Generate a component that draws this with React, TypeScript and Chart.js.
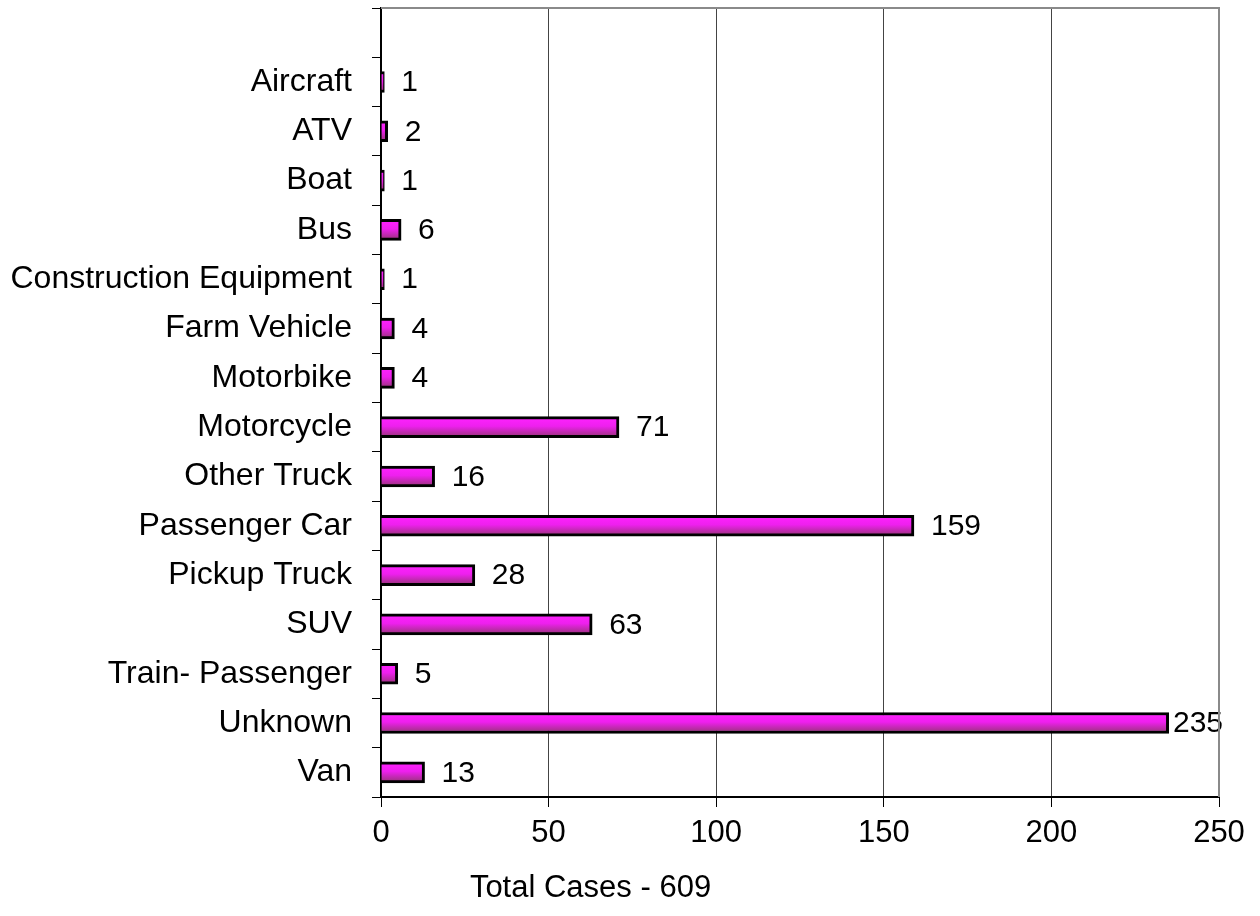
import React, { useEffect, useRef } from "react";
import { Chart, registerables } from "chart.js";

Chart.register(...registerables);

const categories = [
  "",
  "Aircraft",
  "ATV",
  "Boat",
  "Bus",
  "Construction Equipment",
  "Farm Vehicle",
  "Motorbike",
  "Motorcycle",
  "Other Truck",
  "Passenger Car",
  "Pickup Truck",
  "SUV",
  "Train- Passenger",
  "Unknown",
  "Van",
];
const cases: (number | null)[] = [null, 1, 2, 1, 6, 1, 4, 4, 71, 16, 159, 28, 63, 5, 235, 13];
const xTicks = [0, 50, 100, 150, 200, 250];
const axisTitle = "Total Cases - 609";

const FONT = "'Liberation Sans', Arial, sans-serif";

const labelsPlugin = {
  id: "barLabels",
  afterDatasetsDraw(chart: any) {
    const ctx = chart.ctx;
    const meta = chart.getDatasetMeta(0);
    const area = chart.chartArea;
    ctx.save();
    ctx.font = `30px ${FONT}`;
    ctx.fillStyle = "#000";
    ctx.textBaseline = "middle";
    ctx.textAlign = "left";
    meta.data.forEach((bar: any, i: number) => {
      const v = cases[i];
      if (v === null || v === undefined) return;
      const t = String(v);
      const w = ctx.measureText(t).width;
      let x = bar.x + 17;
      if (x + w > area.right + 4) x = Math.max(bar.x + 2, area.right + 4 - w);
      ctx.fillText(t, x, bar.y + 1);
    });
    ctx.restore();
  },
};

const framePlugin = {
  id: "frame",
  afterDraw(chart: any) {
    const ctx = chart.ctx;
    const a = chart.chartArea;
    ctx.save();
    ctx.strokeStyle = "#8a8a8a";
    ctx.lineWidth = 2;
    ctx.beginPath();
    ctx.moveTo(a.left, a.top);
    ctx.lineTo(a.right, a.top);
    ctx.lineTo(a.right, a.bottom);
    ctx.stroke();
    ctx.font = `31px ${FONT}`;
    ctx.fillStyle = "#000";
    ctx.textAlign = "center";
    ctx.textBaseline = "middle";
    ctx.fillText(axisTitle, a.left + (a.right - a.left) * 0.25, 888);
    ctx.restore();
  },
};

export default function App() {
  const ref = useRef<HTMLCanvasElement | null>(null);
  useEffect(() => {
    if (!ref.current) return;
    const chart = new Chart(ref.current, {
      type: "bar",
      data: {
        labels: categories,
        datasets: [
          {
            data: cases,
            barThickness: 21,
            borderWidth: 3,
            borderColor: "#000",
            backgroundColor: (c: any) => {
              const chart = c.chart;
              const ys = chart.scales && chart.scales.y;
              if (!ys || c.dataIndex === undefined) return "#e020e0";
              const cy = ys.getPixelForValue(c.dataIndex);
              if (!Number.isFinite(cy)) return "#e020e0";
              const g = chart.ctx.createLinearGradient(0, cy - 10, 0, cy + 10);
              g.addColorStop(0, "#ff22ff");
              g.addColorStop(0.45, "#ee20ee");
              g.addColorStop(1, "#973378");
              return g;
            },
          },
        ],
      },
      options: {
        indexAxis: "y",
        animation: false,
        responsive: true,
        maintainAspectRatio: false,
        layout: { padding: { top: 8, right: 41, left: 0, bottom: 0 } },
        plugins: {
          legend: { display: false },
          tooltip: { enabled: false },
          title: { display: false },
        },
        scales: {
          x: {
            type: "linear",
            min: 0,
            max: 250,
            afterBuildTicks: (s: any) => {
              s.ticks = xTicks.map((v) => ({ value: v }));
            },
            afterFit: (s: any) => {
              s.height = 119;
              s.paddingLeft = 0;
              s.paddingRight = 0;
            },
            ticks: {
              color: "#000",
              font: { size: 31, family: FONT },
              padding: 8,
              maxRotation: 0,
            },
            grid: {
              color: (c: any) => (c.tick && c.tick.value === 250 ? "#8a8a8a" : "#444"),
              tickColor: "#000",
              tickLength: 10,
              lineWidth: 1,
            },
            border: { color: "#000", width: 2 },
          },
          y: {
            offset: true,
            afterFit: (s: any) => {
              s.width = 381;
              s.paddingTop = 0;
              s.paddingBottom = 0;
            },
            ticks: {
              color: "#000",
              font: { size: 32, family: FONT },
              padding: 20,
              autoSkip: false,
            },
            grid: {
              offset: true,
              drawOnChartArea: false,
              drawTicks: true,
              tickLength: 9,
              tickColor: "#000",
              lineWidth: 1,
            },
            border: { color: "#000", width: 2 },
          },
        },
      },
      plugins: [labelsPlugin, framePlugin],
    });
    return () => chart.destroy();
  }, []);
  return (
    <div style={{ position: "fixed", left: 0, top: 0, width: 1260, height: 916, background: "#fff" }}>
      <canvas ref={ref} />
    </div>
  );
}
